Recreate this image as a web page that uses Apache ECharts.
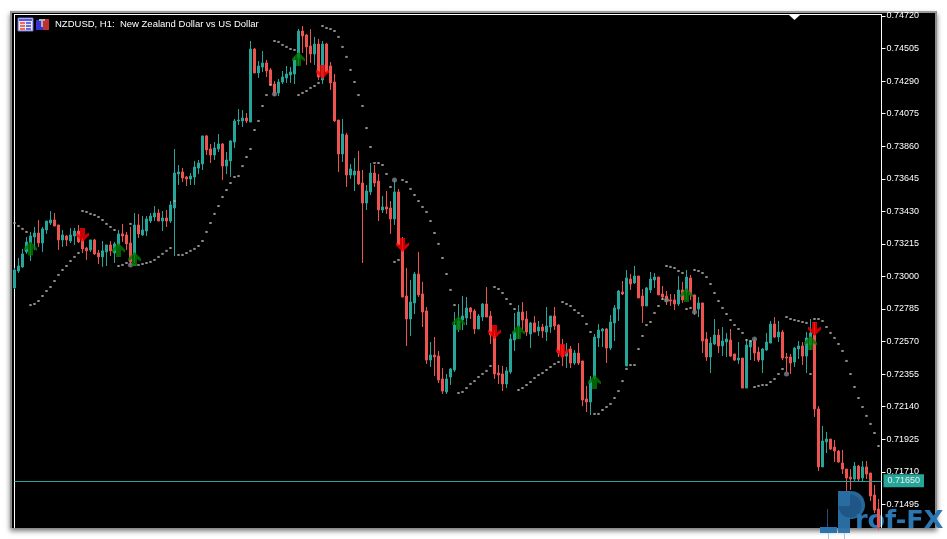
<!DOCTYPE html>
<html>
<head>
<meta charset="utf-8">
<title>NZDUSD H1</title>
<script src="https://cdn.jsdelivr.net/npm/echarts@6/dist/echarts.min.js"></script>
<style>
  html, body { margin: 0; padding: 0; background: #fff; overflow: hidden; }
  #panel { position: absolute; left: 12px; top: 13px; width: 923px; height: 515px; background: #000;
    border-left: 2px solid #8c8c8c; border-top: 2px solid #9a9a9a; border-right: 2px solid #8c8c8c;
    box-sizing: content-box; margin: -2px 0 0 -2px; box-shadow: 0 3px 5px #777; }
  #chart { position: absolute; left: 0; top: 0; width: 947px; height: 539px; }
</style>
</head>
<body>
<div id="panel"></div>
<div id="chart"></div>
<script>
// all prices in points, 1 point = 0.00001
const opens = [
  72924,73036,73063,73162,73221,73261,73287,73221,73307,73353,
  73373,73340,73241,73267,73234,73267,73300,73241,73188,73175,
  73241,73155,73129,73162,73208,73155,73208,73281,73274,73221,
  73142,73340,73274,73300,73366,73393,73419,73366,73386,73366,
  73452,73677,73690,73657,73644,73657,73716,73743,73928,73842,
  73802,73842,73875,73729,73763,73888,74027,74027,74046,74020,
  74502,74344,74383,74410,74364,74271,74212,74284,74311,74331,
  74337,74443,74621,74595,74522,74469,74535,74298,74535,74390,
  74284,74033,73809,73934,73670,73670,73696,73617,73485,73558,
  73683,73630,73439,73459,73452,73380,73558,73175,72871,72719,
  72825,73016,72884,72772,72448,72481,72474,72323,72237,72336,
  72382,72653,72712,72726,72792,72772,72653,72732,72818,72739,
  72607,72362,72356,72290,72369,72580,72666,72765,72719,72620,
  72693,72640,72666,72633,72666,72739,72679,72547,72474,72521,
  72428,72494,72442,72191,72171,72329,72594,72640,72653,72527,
  72693,72785,72897,72409,72983,72957,73003,72871,72805,72911,
  72977,72996,72884,72871,72845,72845,72818,72911,72897,72990,
  72878,72785,72825,72587,72468,72554,72613,72541,72567,72580,
  72488,72448,72461,72263,72534,72574,72501,72448,72514,72560,
  72686,72600,72633,72468,72468,72435,72521,72541,72474,72547,
  72613,72125,71742,71907,71926,71873,71847,71768,71728,71675,
  71662,71748,71669,71742,71702,71557,71464
];
const closes = [
  73043,73069,73149,73228,73267,73287,73221,73314,73366,73373,
  73333,73241,73274,73241,73274,73300,73228,73182,73169,73241,
  73149,73129,73169,73208,73169,73215,73281,73267,73215,73096,
  73340,73281,73307,73380,73399,73419,73366,73386,73366,73472,
  73683,73690,73650,73644,73663,73723,73749,73928,73835,73802,
  73848,73875,73729,73769,73895,74027,74033,74046,74027,74502,
  74344,74390,74410,74357,74265,74212,74284,74317,74337,74350,
  74430,74621,74588,74516,74469,74535,74317,74535,74350,74278,
  74027,73809,73941,73670,73710,73696,73611,73485,73564,73683,
  73617,73439,73459,73445,73380,73558,73208,72864,72719,72831,
  73016,72878,72765,72448,72481,72468,72316,72243,72323,72389,
  72679,72706,72739,72792,72765,72653,72739,72818,72732,72613,
  72356,72349,72290,72376,72587,72633,72765,72712,72633,72693,
  72633,72666,72640,72673,72739,72673,72494,72468,72501,72428,
  72494,72428,72184,72171,72316,72600,72646,72653,72527,72699,
  72792,72904,72884,72990,72950,73003,72858,72805,72924,72983,
  72996,72878,72864,72838,72838,72818,72911,72845,72996,72878,
  72778,72825,72574,72468,72560,72613,72541,72574,72587,72474,
  72448,72461,72263,72547,72574,72494,72448,72521,72567,72686,
  72600,72633,72461,72461,72428,72527,72541,72474,72594,72627,
  72125,71742,71913,71926,71860,71847,71775,71728,71669,71662,
  71748,71662,71742,71695,71550,71457,71345
];
const highs = [
  73056,73122,73182,73261,73294,73327,73373,73327,73366,73432,
  73419,73340,73307,73274,73320,73320,73340,73254,73195,73241,
  73248,73175,73234,73208,73234,73228,73307,73347,73294,73327,
  73419,73413,73399,73399,73419,73465,73445,73432,73439,73498,
  73842,73736,73716,73663,73683,73763,73769,73928,73934,73875,
  73888,73941,73881,73822,73901,74040,74106,74099,74079,74555,
  74509,74423,74489,74430,74377,74291,74304,74357,74390,74383,
  74450,74634,74654,74601,74634,74582,74568,74555,74542,74416,
  74337,74033,74040,73948,73743,73782,73829,73703,73604,73749,
  73736,73677,73531,73564,73498,73637,73578,73261,73056,72977,
  73030,73162,72964,72798,72567,72600,72508,72395,72356,72395,
  72765,72818,72871,72864,72798,72785,72752,72825,72930,72772,
  72646,72415,72409,72402,72620,72759,72811,72831,72772,72699,
  72739,72706,72686,72798,72739,72798,72686,72587,72560,72541,
  72514,72560,72442,72277,72342,72620,72686,72659,72659,72745,
  72811,72911,72970,73043,73016,73069,73003,72917,72930,73030,
  73023,72996,72937,72904,72884,72884,73003,72964,73043,73010,
  72878,72864,72825,72633,72600,72719,72653,72666,72627,72653,
  72488,72567,72461,72587,72580,72587,72534,72527,72627,72706,
  72732,72706,72646,72494,72488,72534,72574,72567,72633,72719,
  72699,72144,72012,71973,71926,71920,71854,71854,71728,71728,
  71775,71755,71781,71781,71702,71623,71530
];
const lows = [
  72917,73023,73056,73149,73102,73175,73195,73162,73281,73340,
  73333,73175,73195,73201,73221,73208,73221,73155,73109,73162,
  73142,73082,73063,73069,73135,73089,73195,73228,73175,73076,
  73089,73254,73267,73267,73353,73366,73366,73300,73327,73353,
  73135,73604,73624,73597,73604,73604,73677,73703,73802,73749,
  73769,73822,73637,73677,73657,73848,74000,73987,74013,74020,
  74344,74311,74350,74317,74258,74192,74192,74271,74278,74278,
  74271,74397,74476,74397,74410,74397,74298,74271,74344,74232,
  74020,73690,73756,73591,73644,73564,73604,73089,73439,73538,
  73591,73366,73419,73413,73281,73340,73208,72864,72541,72607,
  72752,72864,72666,72422,72402,72342,72296,72224,72224,72283,
  72369,72633,72646,72679,72719,72620,72653,72706,72732,72554,
  72323,72290,72243,72263,72356,72508,72587,72646,72607,72527,
  72633,72607,72594,72574,72627,72646,72468,72409,72395,72395,
  72415,72415,72144,72105,72085,72316,72534,72534,72428,72514,
  72574,72706,72878,72409,72911,72950,72858,72693,72805,72891,
  72924,72878,72845,72811,72805,72778,72805,72825,72845,72845,
  72745,72732,72494,72442,72362,72547,72494,72474,72468,72468,
  72442,72422,72263,72263,72448,72442,72435,72362,72508,72560,
  72594,72567,72448,72369,72356,72402,72455,72415,72362,72514,
  72072,71715,71742,71834,71854,71775,71768,71695,71583,71590,
  71649,71649,71649,71662,71517,71437,71325
];
// parabolic SAR, one per bar
const sarValues = [
  73353,73333,73314,73294,72811,72818,72838,72871,72904,72930,
  72970,73010,73043,73069,73102,73129,73155,73432,73426,73413,
  73406,73393,73373,73347,73327,73307,73069,73076,73089,73347,
  73076,73076,73082,73089,73096,73109,73129,73149,73169,73188,
  73498,73142,73142,73155,73169,73182,73201,73234,73294,73353,
  73413,73465,73525,73571,73617,73657,73663,73729,73789,73842,
  73967,74027,74126,74198,74265,74555,74549,74529,74516,74502,
  74496,74198,74212,74225,74245,74258,74278,74654,74641,74634,
  74621,74582,74516,74450,74364,74284,74198,74126,73980,73855,
  73749,73749,73736,73677,73591,73096,73109,73637,73624,73578,
  73538,73498,73459,73426,73366,73287,73215,73122,73016,72911,
  72811,72230,72237,72263,72290,72309,72336,72356,72376,72409,
  72930,72917,72891,72851,72818,72785,72250,72263,72283,72303,
  72329,72349,72362,72382,72402,72422,72435,72831,72818,72805,
  72778,72759,72739,72686,72633,72092,72092,72118,72138,72158,
  72197,72243,72309,72389,72415,72415,72521,72607,72679,72699,
  72759,72805,72851,73069,73063,73056,73036,73023,72785,72792,
  73043,73036,73023,72996,72950,72891,72838,72792,72752,72712,
  72679,72653,72627,72580,72574,72270,72277,72283,72283,72303,
  72323,72356,72389,72732,72719,72712,72706,72699,72693,72356,
  72719,72719,72706,72666,72627,72594,72554,72508,72442,72356,
  72270,72197,72138,72079,72026,71966,71880
];
const pivotBars = [29, 65, 95, 163, 170, 185, 193];
const pivotPrices = [73076, 74205, 73637, 72845, 72765, 72587, 72356];
const upArrowBars = [4, 26, 30, 71, 111, 126, 145, 168, 199];
const upArrowPrices = [73185, 73175, 73116, 74436, 72693, 72633, 72303, 72878, 72560];
const downArrowBars = [17, 77, 97, 120, 137, 200];
const downArrowPrices = [73274, 74350, 73208, 72633, 72508, 72653];
const priceTicks = [74720,74505,74290,74075,73860,73645,73430,73215,73000,72785,72570,72355,72140,71925,71710,71495];
const lastPrice = 71650;
const titleText = 'NZDUSD, H1:  New Zealand Dollar vs US Dollar';

const fmt = v => (v / 100000).toFixed(5);
const BULL = '#26a69a', BEAR = '#ef5350';
const ARROW = 'path://M6.5 0 L13 6.5 L13 9.5 L9 7 L9 14 L4 14 L4 7 L0 9.5 L0 6.5 Z';
const labelFont = 'Liberation Sans';

const candles = opens.map((o, i) => [i, o, closes[i], lows[i], highs[i]]);

const chart = echarts.init(document.getElementById('chart'), null, { renderer: 'canvas' });
chart.setOption({
  animation: false,
  backgroundColor: 'transparent',
  title: {
    text: titleText, left: 55, top: 18.5, padding: 0,
    textStyle: { color: '#fff', fontFamily: labelFont, fontSize: 9.5, fontWeight: 'normal', lineHeight: 12 }
  },
  grid: { left: 14.5, right: 65.5, top: 14.5, bottom: 11.5, show: false },
  xAxis: {
    type: 'value', min: 0, max: 216.75, position: 'top', scale: true,
    axisLine: { show: true, onZero: false, lineStyle: { color: '#fff', width: 1 } },
    axisTick: { show: false }, axisLabel: { show: false }, splitLine: { show: false }
  },
  yAxis: [
    {
      type: 'value', min: 71342, max: 74730, position: 'right',
      axisLine: { show: true, onZero: false, lineStyle: { color: '#fff', width: 1 } },
      axisTick: { show: true, length: 4, customValues: priceTicks, lineStyle: { color: '#fff' } },
      axisLabel: {
        show: true, customValues: priceTicks, formatter: fmt, margin: 5,
        color: '#fff', fontFamily: labelFont, fontSize: 9, padding: [2, 0, 0, 0]
      },
      splitLine: { show: false }
    },
    {
      type: 'value', min: 71342, max: 74730, position: 'left',
      axisLine: { show: true, onZero: false, lineStyle: { color: '#fff', width: 1 } },
      axisTick: { show: false }, axisLabel: { show: false }, splitLine: { show: false }
    }
  ],
  series: [
    {
      type: 'candlestick', data: candles, barWidth: 2, z: 2,
      itemStyle: { color: BULL, color0: BEAR, borderColor: BULL, borderColor0: BEAR, borderWidth: 1 },
      markLine: {
        silent: true, symbol: 'none', animation: false,
        lineStyle: { color: BULL, width: 1, type: 'solid' },
        label: {
          show: true, position: 'end', distance: 2, formatter: () => fmt(lastPrice),
          color: '#e6efe9', backgroundColor: BULL, padding: [3, 4, 1, 4],
          fontFamily: labelFont, fontSize: 9
        },
        data: [{ yAxis: lastPrice }]
      }
    },
    {
      type: 'scatter', symbol: 'rect', symbolSize: [2.4, 2], z: 3,
      itemStyle: { color: '#b4b4ae' },
      data: sarValues.map((v, i) => [i, v])
    },
    {
      type: 'scatter', symbol: 'circle', symbolSize: 5, z: 3,
      itemStyle: { color: '#7e858c' },
      data: pivotPrices.map((v, i) => [pivotBars[i], v])
    },
    {
      type: 'scatter', symbol: ARROW, symbolSize: [13, 14], z: 4,
      itemStyle: { color: '#007a00' },
      data: upArrowPrices.map((v, i) => [upArrowBars[i], v])
    },
    {
      type: 'scatter', symbol: ARROW, symbolSize: [13, 14], symbolRotate: 180, z: 4,
      itemStyle: { color: '#ff0000' },
      data: downArrowPrices.map((v, i) => [downArrowBars[i], v])
    }
  ],
  graphic: [
    // window icons
    { type: 'rect', shape: { x: 18, y: 18, width: 15, height: 13 }, style: { fill: '#e8e8f8', stroke: '#6a6ad0' }, z: 20 },
    { type: 'rect', shape: { x: 19, y: 19, width: 13, height: 2 }, style: { fill: '#5a5ae0' }, z: 21 },
    { type: 'rect', shape: { x: 20, y: 22, width: 5, height: 2 }, style: { fill: '#ef6a5a' }, z: 21 },
    { type: 'rect', shape: { x: 26, y: 22, width: 5, height: 2 }, style: { fill: '#6a6ae0' }, z: 21 },
    { type: 'rect', shape: { x: 20, y: 25, width: 5, height: 2 }, style: { fill: '#ef6a5a' }, z: 21 },
    { type: 'rect', shape: { x: 26, y: 25, width: 5, height: 2 }, style: { fill: '#6a6ae0' }, z: 21 },
    { type: 'rect', shape: { x: 20, y: 28, width: 5, height: 2 }, style: { fill: '#ef6a5a' }, z: 21 },
    { type: 'rect', shape: { x: 26, y: 28, width: 5, height: 2 }, style: { fill: '#6a6ae0' }, z: 21 },
    { type: 'rect', shape: { x: 36, y: 20, width: 7, height: 10 }, style: { fill: '#3434d8' }, z: 20 },
    { type: 'rect', shape: { x: 43, y: 19, width: 6, height: 11 }, style: { fill: '#c03030' }, z: 20 },
    { type: 'rect', shape: { x: 39, y: 19, width: 6, height: 2 }, style: { fill: '#b0b0b0' }, z: 21 },
    { type: 'rect', shape: { x: 41, y: 21, width: 2, height: 6 }, style: { fill: '#b0b0b0' }, z: 21 },
    // shift marker
    { type: 'polygon', shape: { points: [[789, 15], [800, 15], [794.5, 20]] }, style: { fill: '#fff' }, z: 20 },
    // watermark
    {
      type: 'group', z: 30, silent: true,
      children: [
        { type: 'rect', shape: { x: 827, y: 509, width: 1, height: 18 }, style: { fill: '#1f4f78' } },
        { type: 'rect', shape: { x: 820, y: 527, width: 17, height: 6 }, style: { fill: '#2a72ab' } },
        { type: 'rect', shape: { x: 828, y: 533, width: 1, height: 6 }, style: { fill: '#a9c6de' } },
        { type: 'rect', shape: { x: 844, y: 533, width: 1, height: 6 }, style: { fill: '#a9c6de' } },
        { type: 'rect', shape: { x: 838, y: 491, width: 12, height: 42 }, style: { fill: '#2a72ab', opacity: 0.95 } },
        { type: 'sector', shape: { cx: 851, cy: 505, r: 14, r0: 0, startAngle: -Math.PI / 2 - 0.2, endAngle: Math.PI / 2 + 0.2 }, style: { fill: '#2a72ab', opacity: 0.9 } },
        { type: 'sector', shape: { cx: 850, cy: 506, r: 11.5, r0: 0, startAngle: -Math.PI / 2, endAngle: Math.PI }, style: { fill: '#1f5585', opacity: 0.95 } },
        {
          type: 'text', x: 855, y: 534,
          style: { text: 'rof-FX', fill: '#2a76b2', font: 'bold 25.5px "DejaVu Sans"', textAlign: 'left', textVerticalAlign: 'bottom' }
        }
      ]
    }
  ]
});
</script>
</body>
</html>
